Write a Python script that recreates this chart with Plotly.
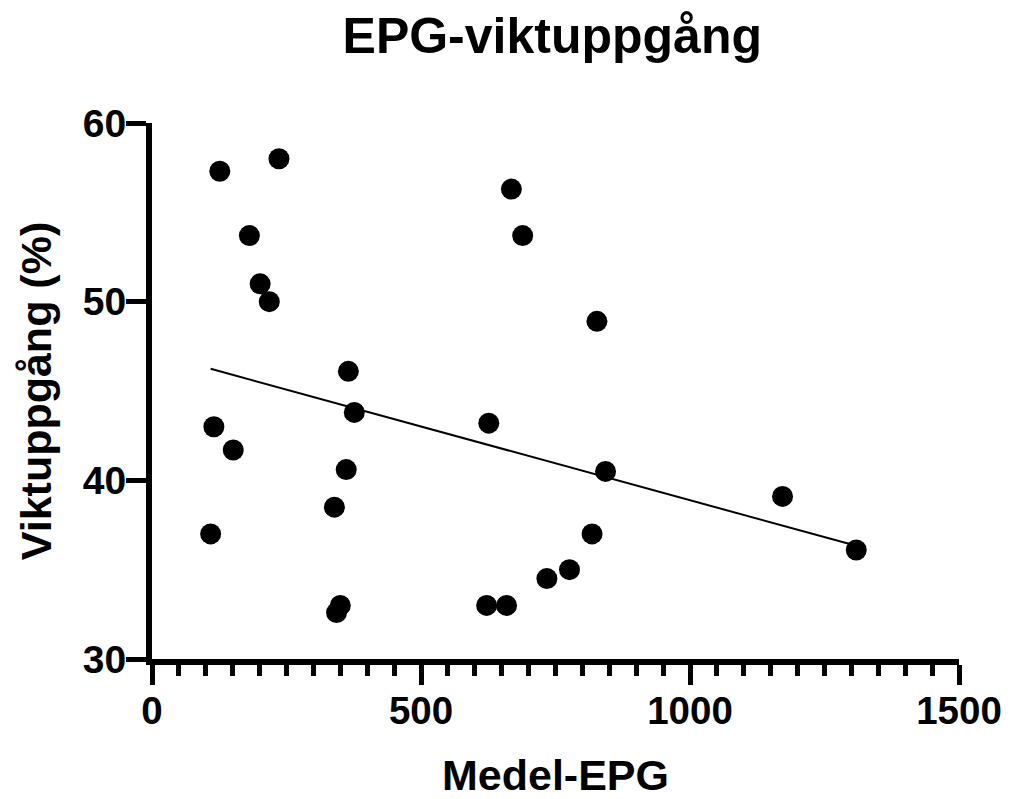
import numpy as np
import plotly.graph_objects as go

# Data
medel_epg = [109, 115, 126, 151, 181, 201, 218, 236, 339, 343, 350, 361, 365, 376,
             622, 626, 659, 668, 689, 734, 776, 818, 827, 843, 1172, 1309]
viktuppgang = [37.0, 43.0, 57.3, 41.7, 53.7, 51.0, 50.0, 58.0, 38.5, 32.6, 33.0, 40.6, 46.1, 43.8,
               33.0, 43.2, 33.0, 56.3, 53.7, 34.5, 35.0, 37.0, 48.9, 40.5, 39.1, 36.1]

x_ticks = [0, 500, 1000, 1500]
y_ticks = [30, 40, 50, 60]

# Linear regression across the observed x span
slope, intercept = np.polyfit(medel_epg, viktuppgang, 1)
fit_x = [min(medel_epg), max(medel_epg)]
fit_y = [slope * v + intercept for v in fit_x]

FONT = "Liberation Sans"
W, H = 1010, 799

fig = go.Figure()
fig.add_trace(go.Scatter(
    x=fit_x, y=fit_y, mode="lines",
    line=dict(color="black", width=2), showlegend=False, hoverinfo="skip"))
fig.add_trace(go.Scatter(
    x=medel_epg, y=viktuppgang, mode="markers",
    marker=dict(color="black", size=21, line=dict(width=0)), showlegend=False))

fig.update_layout(
    width=W, height=H,
    paper_bgcolor="white", plot_bgcolor="white",
    margin=dict(l=152, r=51, t=123, b=140),
    title=dict(text="<b>EPG-viktuppgång</b>", x=0.496, xref="paper", xanchor="center",
               y=1 - 35 / H, yref="container", yanchor="middle",
               font=dict(family=FONT, size=50, color="black")),
    font=dict(family=FONT, color="black"),
)
# x-axis title placed as an annotation so it can sit below the margin limit
fig.add_annotation(
    text="<b>Medel-EPG</b>", x=0.5, xref="paper", y=0, yref="paper",
    xanchor="center", yanchor="middle", yshift=-116, showarrow=False,
    font=dict(family=FONT, size=43, color="black"))

fig.update_xaxes(
    range=[0, 1500], tickvals=x_ticks, ticktext=[f"<b>{v}</b>" for v in x_ticks],
    showline=True, linecolor="black", linewidth=6, showgrid=False, zeroline=False,
    ticks="outside", ticklen=20, tickwidth=5, tickcolor="black",
    ticklabelstandoff=-7, ticklabeloverflow="allow",
    tickfont=dict(family=FONT, size=38.5, color="black"),
    minor=dict(dtick=50, ticks="outside", ticklen=11, tickwidth=5, tickcolor="black", showgrid=False),
    automargin=False,
)
fig.update_yaxes(
    range=[30, 60], tickvals=y_ticks, ticktext=[f"<b>{v}</b>" for v in y_ticks],
    showline=True, linecolor="black", linewidth=6, showgrid=False, zeroline=False,
    ticks="outside", ticklen=20, tickwidth=5, tickcolor="black",
    ticklabelstandoff=-8,
    tickfont=dict(family=FONT, size=39, color="black"),
    title=dict(text="<b>Viktuppgång (%)</b>", font=dict(family=FONT, size=43, color="black"), standoff=20),
    automargin=False,
)

fig.write_html("out.html", config={"displayModeBar": False},
               post_script="document.body.style.margin='0';document.body.style.overflow='hidden';")
